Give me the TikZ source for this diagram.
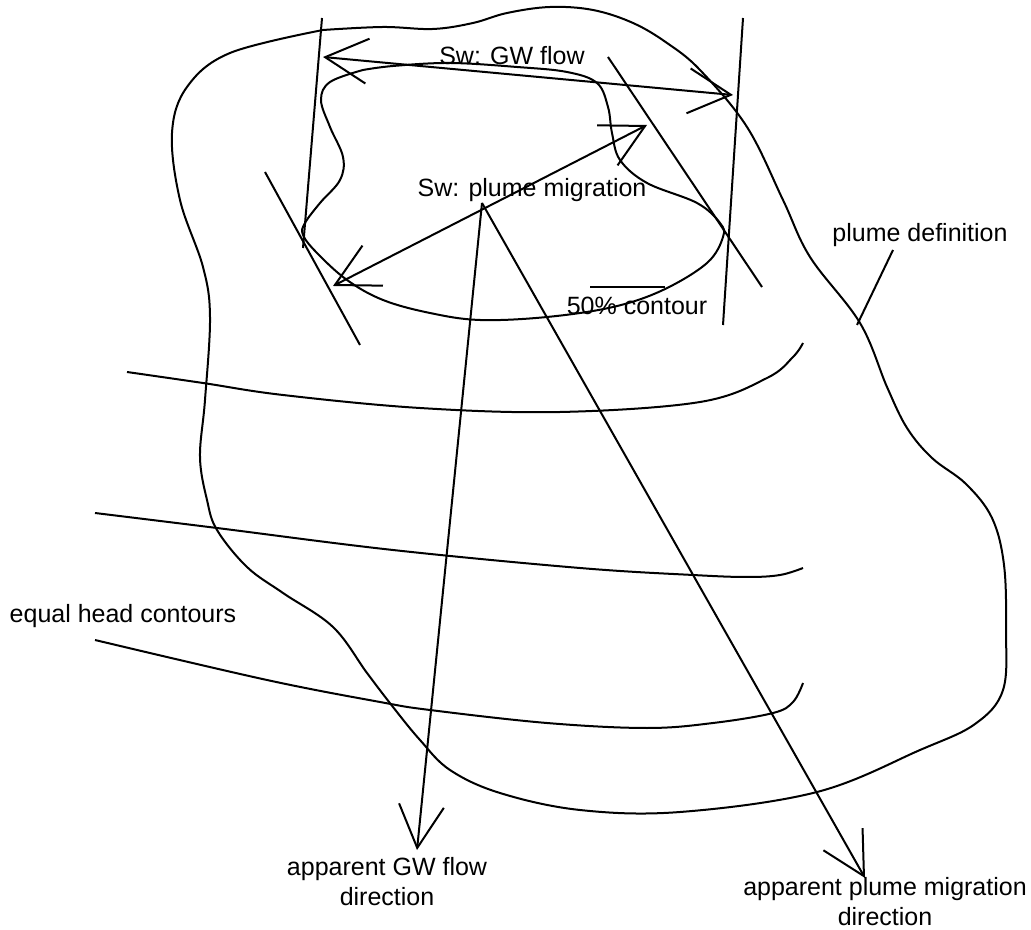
\documentclass[tikz,border=0pt]{standalone}
\usepackage{fontspec}
\setmainfont{Liberation Sans}
\usetikzlibrary{arrows.meta}

\begin{document}
\begin{tikzpicture}[x=0.4pt, y=-0.4pt, line width=0.8pt,
    >={Straight Barb[length=17pt,width=18pt]},
    etiqueta/.style={font=\fontsize{10}{12}\selectfont, inner sep=0pt, anchor=base},
    curva/.style={smooth, tension=0.6}]
    \useasboundingbox (0,0) rectangle (1031,930);
    % Puntos de referencia
    \coordinate (gwL) at (323,57);
    \coordinate (gwR) at (733,95);
    \coordinate (plL) at (333,286);
    \coordinate (plR) at (647,125);
    \coordinate (vertice) at (482,203);
    \coordinate (gwFin) at (417,850);
    \coordinate (plFin) at (865,878);
    % Contorno exterior (definicion de la pluma)
    \draw plot[curva] coordinates {(323,30) (383,27) (433,29) (473,23) (507,13) (550,7)
        (593,10) (633,23) (667,43) (700,70) (747,127) (783,200) (810,257) (860,323)
        (887,387) (907,428) (932,458) (966,484) (992,518) (1004,565) (1006,630)
        (1003,690) (975,724) (920,750) (817,792) (680,812) (580,810) (500,793) (450,770)
        (420,740) (393,707) (367,673) (333,627) (283,593) (247,567) (217,530)
        (207,500) (200,457) (205,400) (210,317) (203,267) (180,200) (172,133)
        (187,87) (230,53) (323,30)};
    % Contorno del 50%
    \draw plot[curva] coordinates {(363,70) (393,66) (450,63) (517,67) (567,72) (597,83)
        (608,107) (612,133) (620,160) (647,183) (697,203) (720,223) (723,237)
        (707,263) (663,290) (613,307) (547,317) (480,320) (430,313) (383,300)
        (347,280) (317,253) (303,235) (305,223) (320,203) (340,180) (343,157)
        (330,127) (321,100) (330,82) (363,70)};
    % Tangentes al contorno del 50%
    \draw (322,18) -- (303,248);
    \draw (743,18) -- (723,325);
    \draw (265,172) -- (360,345);
    \draw (608,57) -- (762,287);
    % Sw: flujo y migracion
    \draw[<->] (gwL) -- (gwR);
    \draw[<->] (plL) -- (plR);
    % Direcciones aparentes
    \draw[->] (vertice) -- (gwFin);
    \draw[->] (vertice) -- (plFin);
    % Curvas de igual carga
    \draw plot[curva] coordinates {(127,372) (203,383) (283,395) (420,408) (560,412)
        (700,402) (767,378) (793,357) (803,343)};
    \draw plot[curva] coordinates {(95,513) (217,528) (393,550) (580,568) (693,575)
        (747,577) (780,575) (803,568)};
    \draw plot[curva] coordinates {(95,640) (267,680) (380,702) (430,710) (547,723)
        (647,728) (713,723) (773,713) (793,702) (803,683)};
    % Lineas de referencia de las etiquetas
    \draw (893,250) -- (857,325);
    \draw (590,287) -- (665,287);
    % Etiquetas
    \node[etiqueta] (tGW) at (512,65) {Sw: GW flow};
    \node[etiqueta] (tPl) at (532,197) {Sw: plume migration};
    \node[etiqueta] (t50) at (637,315) {50\% contour};
    \node[etiqueta] (tDef) at (920,242) {plume definition};
    \node[etiqueta] (tHead) at (123,622) {equal head contours};
    \node[etiqueta, align=center] (tApGW) at (387,905) {apparent GW flow\\direction};
    \node[etiqueta, align=center] (tApPl) at (885,925) {apparent plume migration\\direction};
\end{tikzpicture}
\end{document}
